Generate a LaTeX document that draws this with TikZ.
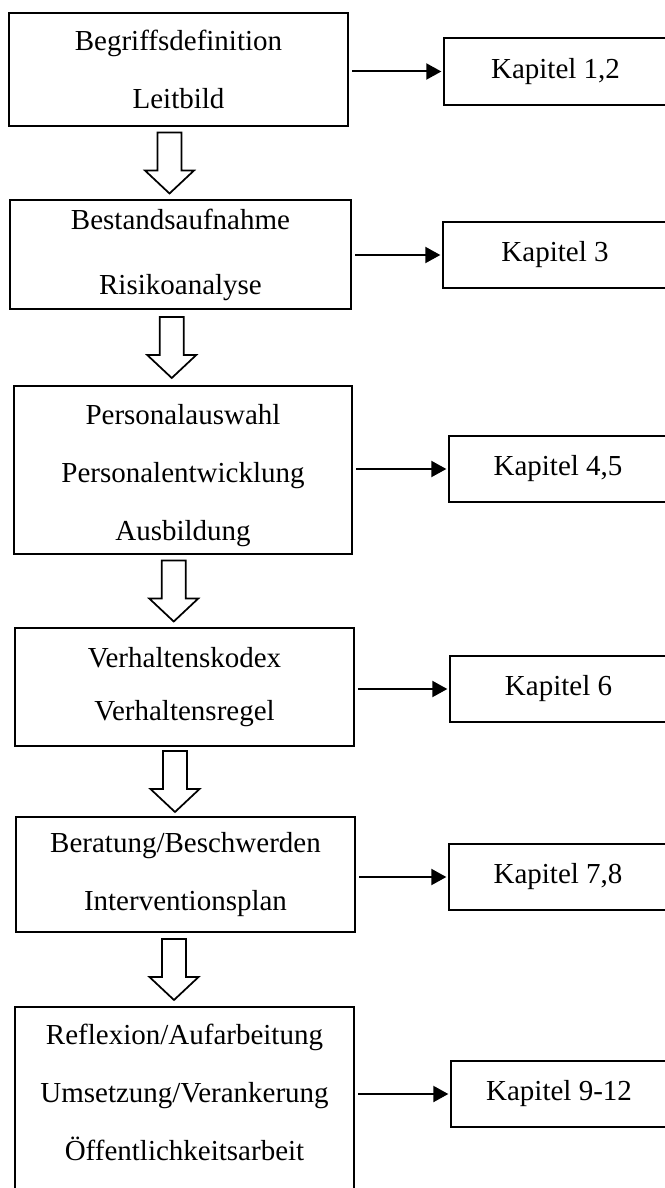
\documentclass[tikz,border=0pt]{standalone}
\usepackage{fontspec}
\setmainfont{Liberation Serif}
\usetikzlibrary{arrows.meta,calc}

\newcommand\stagefont{\fontsize{21.75pt}{43.5pt}\selectfont}

\tikzset{
  stage/.style={draw, line width=1.3pt, inner sep=0pt, outer sep=0pt, align=center, font=\stagefont},
  chapter/.style={draw, line width=1.3pt, inner sep=0pt, outer sep=0pt, minimum height=50pt, font=\stagefont},
  tochapter/.style={line width=1.5pt, -{Triangle[length=11.25pt,width=12pt]}, shorten <=3pt, shorten >=2pt},
  pics/nextstage/.style={code={
    \draw[line width=1.3pt] (-12,30.5) -- (12,30.5) -- (12,-7.5) -- (24.5,-7.5) -- (0,-30.5) -- (-24.5,-7.5) -- (-12,-7.5) -- cycle ;
  }}
}

\begin{document}
\begin{tikzpicture}[x=0.75pt,y=0.75pt,yscale=-1,xscale=1]
\useasboundingbox (0,0) rectangle (664,1188);

%Shape: Rectangle
\node[stage, minimum width=254.25pt, minimum height=84.75pt] (b1) at (178.5,69.5) {Begriffsdefinition\\Leitbild};
%Shape: Rectangle
\node[stage, minimum width=255.75pt, minimum height=81.75pt, font=\fontsize{21.75pt}{48.75pt}\selectfont] (b2) at (180.5,254.5) {Bestandsaufnahme\\Risikoanalyse};
%Shape: Rectangle
\node[stage, minimum width=253.5pt, minimum height=126pt] (b3) at (183,470) {\rule{0pt}{24pt}Personalauswahl\\Personalentwicklung\\Ausbildung};
%Shape: Rectangle
\node[stage, minimum width=254.25pt, minimum height=88.5pt, font=\fontsize{21.75pt}{39.75pt}\selectfont] (b4) at (184.5,687) {Verhaltenskodex\\Verhaltensregel};
%Shape: Rectangle
\node[stage, minimum width=254.25pt, minimum height=86.25pt] (b5) at (185.5,874.5) {Beratung/Beschwerden\\Interventionsplan};
%Shape: Rectangle
\node[stage, minimum width=254.25pt, minimum height=171pt] (b6) at (184.5,1121) {Reflexion/Aufarbeitung\\Umsetzung/Verankerung\\Öffentlichkeitsarbeit\\ \rule{0pt}{0pt}};

%Shape: Rectangle
\node[chapter, minimum width=167.25pt] (k1) at (555.5,71.5) {Kapitel 1,2};
%Shape: Rectangle
\node[chapter, minimum width=168pt] (k2) at (555,255) {Kapitel 3};
%Shape: Rectangle
\node[chapter, minimum width=163.5pt] (k3) at (558,469) {Kapitel 4,5};
%Shape: Rectangle
\node[chapter, minimum width=162.75pt] (k4) at (558.5,689) {Kapitel 6};
%Shape: Rectangle
\node[chapter, minimum width=163.5pt] (k5) at (558,877) {Kapitel 7,8};
%Shape: Rectangle
\node[chapter, minimum width=162pt] (k6) at (559,1094) {Kapitel 9-12};

%Straight Lines
\draw[tochapter] (b1.east |- k1.west) -- (k1.west) ;
\draw[tochapter] (b2.east |- k2.west) -- (k2.west) ;
\draw[tochapter] (b3.east |- k3.west) -- (k3.west) ;
\draw[tochapter] (b4.east |- k4.west) -- (k4.west) ;
\draw[tochapter] (b5.east |- k5.west) -- (k5.west) ;
\draw[tochapter] (b6.east |- k6.west) -- (k6.west) ;

%Shape: Down Arrow
\pic at ($(b1.south)!0.5!(b2.north)+(-10,0)$) {nextstage};
\pic at ($(b2.south)!0.5!(b3.north)+(-10,0)$) {nextstage};
\pic at ($(b3.south)!0.5!(b4.north)+(-10,0)$) {nextstage};
\pic at ($(b4.south)!0.5!(b5.north)+(-10,0)$) {nextstage};
\pic at ($(b5.south)!0.5!(b6.north)+(-11,0)$) {nextstage};

\end{tikzpicture}
\end{document}
